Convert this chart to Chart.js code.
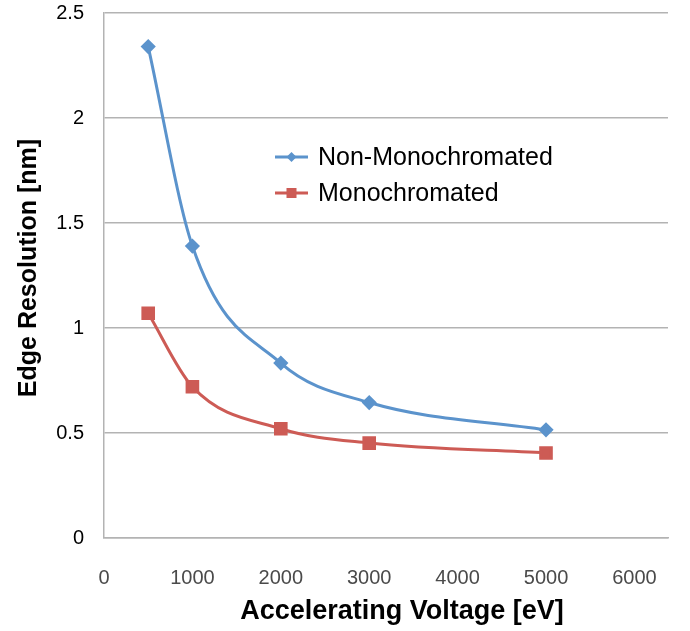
<!DOCTYPE html>
<html>
<head>
<meta charset="utf-8">
<script src="https://cdn.jsdelivr.net/npm/chart.js@4"></script>
<style>
  html, body { margin: 0; padding: 0; background: #fff; }
  #wrap { width: 690px; height: 631px; }
</style>
</head>
<body>
<div id="wrap"><canvas id="chart" width="690" height="631"></canvas></div>
<script>
// values
const voltages = [500, 1000, 2000, 3000, 5000];
const nonMono = [2.34, 1.39, 0.833, 0.645, 0.515];
const mono = [1.07, 0.72, 0.52, 0.452, 0.405];
const seriesNames = ['Non-Monochromated', 'Monochromated'];
const xTicks = [0, 1000, 2000, 3000, 4000, 5000, 6000];
const xTitle = 'Accelerating Voltage [eV]';
const yTitle = 'Edge Resolution [nm]';

const blue = '#5b93cc';
const red = '#cd5b55';
const FONT = '"Liberation Sans", Arial, Helvetica, sans-serif';

// legend sits inside the plot and the axis titles are off-centre, so draw them by hand
const extras = {
    id: 'extras',
    afterDraw(chart) {
        const ctx = chart.ctx;
        const rows = [[275, 157], [275, 193]];
        chart.data.datasets.forEach((ds, i) => {
            const [x, y] = rows[i];
            ctx.save();
            ctx.strokeStyle = ds.borderColor;
            ctx.lineWidth = 3;
            ctx.beginPath();
            ctx.moveTo(x, y);
            ctx.lineTo(x + 33, y);
            ctx.stroke();
            ctx.fillStyle = ds.backgroundColor;
            const cx = x + 16.5;
            if (ds.pointStyle === 'rectRot') {
                ctx.beginPath();
                ctx.moveTo(cx, y - 5);
                ctx.lineTo(cx + 5, y);
                ctx.lineTo(cx, y + 5);
                ctx.lineTo(cx - 5, y);
                ctx.closePath();
                ctx.fill();
            } else {
                ctx.fillRect(cx - 5, y - 5, 10, 10);
            }
            ctx.fillStyle = '#000';
            ctx.font = '25px ' + FONT;
            ctx.textBaseline = 'middle';
            ctx.fillText(ds.label, x + 43, y + 1);
            ctx.restore();
        });

        ctx.save();
        ctx.fillStyle = '#000';
        ctx.textAlign = 'center';
        ctx.textBaseline = 'middle';
        ctx.font = 'bold 27px ' + FONT;
        ctx.fillText(xTitle, 402, 612);
        ctx.translate(29, 268);
        ctx.rotate(-Math.PI / 2);
        ctx.font = 'bold 25px ' + FONT;
        ctx.fillText(yTitle, 0, 0);
        ctx.restore();
    }
};

new Chart(document.getElementById('chart'), {
    type: 'line',
    data: {
        datasets: [{
            label: seriesNames[0],
            data: voltages.map((v, i) => ({ x: v, y: nonMono[i] })),
            borderColor: blue,
            backgroundColor: blue,
            borderWidth: 3,
            pointStyle: 'rectRot',
            pointRadius: 5.5,
            pointHoverRadius: 5.5,
            cubicInterpolationMode: 'monotone'
        }, {
            label: seriesNames[1],
            data: voltages.map((v, i) => ({ x: v, y: mono[i] })),
            borderColor: red,
            backgroundColor: red,
            borderWidth: 3,
            pointStyle: 'rect',
            pointRadius: 7.5,
            pointHoverRadius: 7.5,
            cubicInterpolationMode: 'monotone'
        }]
    },
    options: {
        responsive: false,
        animation: false,
        layout: { padding: { top: 13, right: 22, left: 0, bottom: 0 } },
        plugins: {
            legend: { display: false },
            tooltip: { enabled: false }
        },
        scales: {
            x: {
                type: 'linear',
                min: 0,
                max: 6380,
                afterBuildTicks: (axis) => {
                    axis.ticks = xTicks.map(v => ({ value: v }));
                },
                ticks: {
                    autoSkip: false,
                    maxRotation: 0,
                    color: '#4a4a4a',
                    font: { family: FONT, size: 20 },
                    padding: 28,
                    callback: (v) => String(v)
                },
                grid: { display: false, drawTicks: false },
                border: { display: true, color: '#b3b3b3', width: 1.5 },
                afterFit: (axis) => {
                    axis.height = 93;
                    axis.paddingLeft = 0;
                    axis.paddingRight = 0;
                }
            },
            y: {
                min: 0,
                max: 2.5,
                ticks: {
                    stepSize: 0.5,
                    color: '#000',
                    font: { family: FONT, size: 20 },
                    padding: 20,
                    callback: (v) => String(v)
                },
                grid: { color: '#b3b3b3', lineWidth: 1.5, drawTicks: false },
                border: { display: true, color: '#b3b3b3', width: 1.5 },
                afterFit: (axis) => {
                    axis.width = 104;
                    axis.paddingTop = 0;
                    axis.paddingBottom = 0;
                }
            }
        }
    },
    plugins: [extras]
});
</script>
</body>
</html>
